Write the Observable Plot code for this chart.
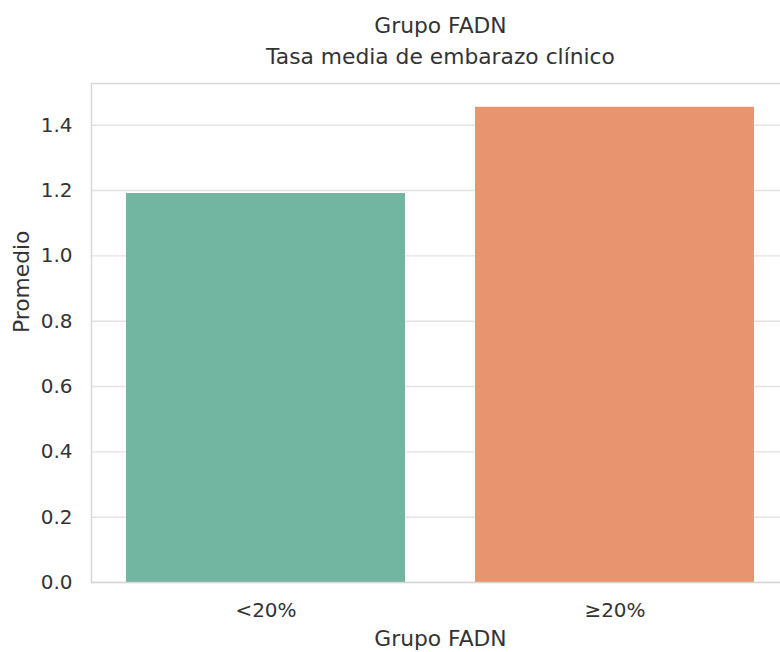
<!DOCTYPE html>
<html>
<head>
<meta charset="utf-8">
<script src="https://cdn.jsdelivr.net/npm/d3@7"></script>
<script src="https://cdn.jsdelivr.net/npm/@observablehq/plot@0.6"></script>
<style>
  html, body { margin: 0; padding: 0; background: #fff; overflow: hidden; width: 780px; height: 652px; }
  #chart { width: 780px; height: 652px; overflow: hidden; }
  #chart svg { display: block; max-width: none !important; }
</style>
</head>
<body>
<div id="chart"></div>
<script>
const categories = ["<20%", "≥20%"];
const values = [1.191, 1.455];
const colors = ["#72b6a1", "#e8956f"];
const yTicks = [0, 0.2, 0.4, 0.6, 0.8, 1.0, 1.2, 1.4];
const titleText = "Tasa media de embarazo clínico";
const legendTitle = "Grupo FADN";
const xLabel = "Grupo FADN";
const yLabel = "Promedio";

const data = categories.map((c, i) => ({ grupo: c, valor: values[i] }));
const textColor = "#333333";

const plot = Plot.plot({
  width: 789,
  height: 652,
  marginLeft: 91,
  marginRight: 0,
  marginTop: 83,
  marginBottom: 70,
  style: { fontFamily: "DejaVu Sans", background: "#fff", overflow: "visible" },
  x: { domain: categories, paddingInner: 0.2, paddingOuter: 0.1, label: null },
  y: { domain: [0, values[1] * 1.05], label: null },
  color: { domain: categories, range: colors },
  marks: [
    Plot.gridY(yTicks, { stroke: "#e3e3e3", strokeOpacity: 1, strokeWidth: 1.4 }),
    Plot.barY(data, { x: "grupo", y: "valor", fill: "grupo" }),
    Plot.frame({ stroke: "#d6d6d6", strokeWidth: 1.4 }),
    Plot.axisY({ ticks: yTicks, tickFormat: d3.format(".1f"), tickSize: 0, tickPadding: 19, fontSize: 20, fill: textColor, label: null }),
    Plot.axisX({ tickSize: 0, tickPadding: 20, fontSize: 20, fill: textColor, label: null }),
    Plot.text([xLabel], { frameAnchor: "bottom", dy: 63, lineAnchor: "bottom", fontSize: 21.8, fill: textColor }),
    Plot.text([yLabel], { frameAnchor: "left", dx: -63, rotate: -90, lineAnchor: "bottom", fontSize: 21.8, fill: textColor }),
    Plot.text([titleText], { frameAnchor: "top", dy: -20, lineAnchor: "bottom", fontSize: 21.8, fill: textColor }),
    Plot.text([legendTitle], { frameAnchor: "top", dy: -51, lineAnchor: "bottom", fontSize: 21.8, fill: textColor })
  ]
});
plot.style.maxWidth = "none";
plot.style.height = "652px";
plot.style.width = "789px";
document.getElementById("chart").appendChild(plot);
</script>
</body>
</html>
